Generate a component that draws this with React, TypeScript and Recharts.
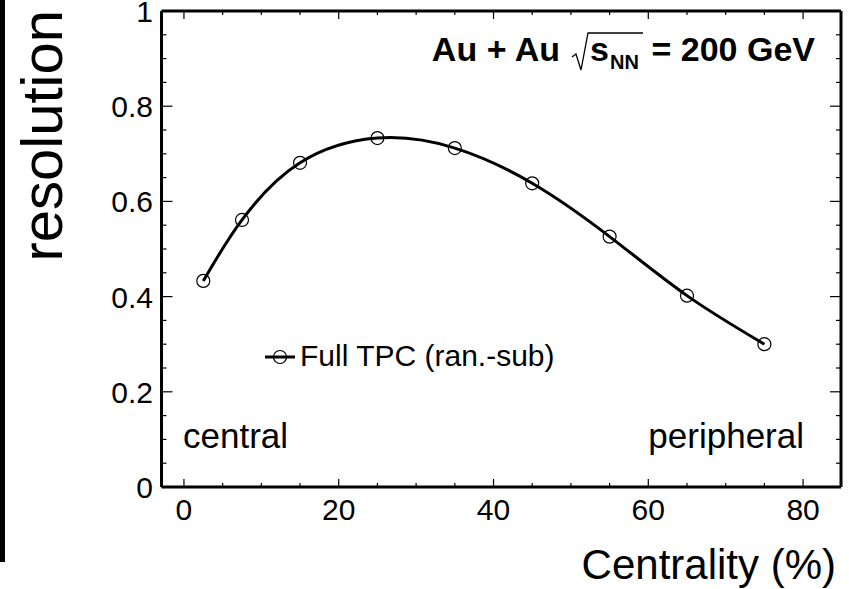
import { ComposedChart, Customized, Line, XAxis, YAxis } from "recharts";

const centrality = [2.5, 7.5, 15, 25, 35, 45, 55, 65, 75];
const resolution = [0.433, 0.561, 0.681, 0.733, 0.712, 0.638, 0.526, 0.402, 0.3];

const xTicks = [0, 5, 10, 15, 20, 25, 30, 35, 40, 45, 50, 55, 60, 65, 70, 75, 80];
const xMajor = [0, 20, 40, 60, 80];
const yTicks = [0, 0.05, 0.1, 0.15, 0.2, 0.25, 0.3, 0.35, 0.4, 0.45, 0.5, 0.55, 0.6, 0.65, 0.7, 0.75, 0.8, 0.85, 0.9, 0.95, 1];
const yMajor = [0, 0.2, 0.4, 0.6, 0.8, 1];

const data = centrality.map((x, i) => ({ x, y: resolution[i] }));

const FONT = '"Liberation Sans", Arial, Helvetica, sans-serif';
const AXIS = { stroke: "#000", strokeWidth: 3 };

const isMajor = (list: number[], v: number) => list.some((m) => Math.abs(m - v) < 1e-6);

function BottomTick(p: any) {
  const major = isMajor(xMajor, p.payload.value);
  return (
    <g>
      <line x1={p.x} x2={p.x} y1={p.y} y2={p.y - (major ? 8 : 4)} stroke="#000" strokeWidth={1.2} />
      {major && (
        <text x={p.x} y={p.y + 33} textAnchor="middle" fontFamily={FONT} fontSize={30} fill="#000">
          {p.payload.value}
        </text>
      )}
    </g>
  );
}

function TopTick(p: any) {
  const major = isMajor(xMajor, p.payload.value);
  return <line x1={p.x} x2={p.x} y1={p.y} y2={p.y + (major ? 8 : 4)} stroke="#000" strokeWidth={1.2} />;
}

function LeftTick(p: any) {
  const major = isMajor(yMajor, p.payload.value);
  return (
    <g>
      <line x1={p.x} x2={p.x + (major ? 11 : 5)} y1={p.y} y2={p.y} stroke="#000" strokeWidth={1.2} />
      {major && (
        <text x={153} y={p.y + 11} textAnchor="end" fontFamily={FONT} fontSize={30} fill="#000">
          {p.payload.value}
        </text>
      )}
    </g>
  );
}

function RightTick(p: any) {
  const major = isMajor(yMajor, p.payload.value);
  return <line x1={p.x} x2={p.x - (major ? 11 : 5)} y1={p.y} y2={p.y} stroke="#000" strokeWidth={1.2} />;
}

function Overlay() {
  return (
    <g fontFamily={FONT} fill="#000">
      <text x={560} y={61} textAnchor="end" fontSize={34} fontWeight="bold">Au + Au</text>
      <path d="M572,57 L576,54 L581,70 L588,33 L643,33" fill="none" stroke="#000" strokeWidth={1.3} />
      <text x={590} y={61} fontSize={34} fontWeight="bold">s</text>
      <text x={610} y={69} fontSize={20} fontWeight="bold">NN</text>
      <text x={815} y={61} textAnchor="end" fontSize={34} fontWeight="bold">= 200 GeV</text>

      <line x1={265} x2={295} y1={357} y2={357} stroke="#000" strokeWidth={3} />
      <circle cx={280} cy={357} r={6.5} fill="none" stroke="#000" strokeWidth={1.2} />
      <text x={300} y={366} fontSize={30}>Full TPC (ran.-sub)</text>

      <text x={183} y={448} fontSize={35}>central</text>
      <text x={804} y={448} textAnchor="end" fontSize={35}>peripheral</text>

      <text x={836} y={579} textAnchor="end" fontSize={42}>Centrality (%)</text>
      <text transform="translate(62,10) rotate(-90)" textAnchor="end" fontSize={58}>resolution</text>
    </g>
  );
}

export default function App() {
  return (
    <div style={{ position: "absolute", left: 0, top: 0, width: 849, height: 589, background: "#fff" }}>
      <div style={{ position: "absolute", left: 0, top: 0, width: 5, height: 562, background: "#000" }} />
      <ComposedChart width={849} height={589} data={data} margin={{ top: 10, right: 7, bottom: 101, left: 160.5 }}>
        <XAxis
          xAxisId="b"
          dataKey="x"
          type="number"
          domain={[-2.9, 84.9]}
          allowDataOverflow
          ticks={xTicks}
          interval={0}
          height={1}
          tickSize={0}
          tickMargin={0}
          tickLine={false}
          axisLine={AXIS}
          tick={BottomTick}
        />
        <XAxis
          xAxisId="t"
          orientation="top"
          dataKey="x"
          type="number"
          domain={[-2.9, 84.9]}
          allowDataOverflow
          ticks={xTicks}
          interval={0}
          height={1}
          tickSize={0}
          tickMargin={0}
          tickLine={false}
          axisLine={AXIS}
          tick={TopTick}
        />
        <YAxis
          yAxisId="l"
          type="number"
          domain={[0, 1]}
          allowDataOverflow
          ticks={yTicks}
          interval={0}
          width={1}
          tickSize={0}
          tickMargin={0}
          tickLine={false}
          axisLine={AXIS}
          tick={LeftTick}
        />
        <YAxis
          yAxisId="r"
          orientation="right"
          type="number"
          domain={[0, 1]}
          allowDataOverflow
          ticks={yTicks}
          interval={0}
          width={1}
          tickSize={0}
          tickMargin={0}
          tickLine={false}
          axisLine={AXIS}
          tick={RightTick}
        />
        <Line
          xAxisId="b"
          yAxisId="l"
          dataKey="y"
          type="natural"
          stroke="#000"
          strokeWidth={3}
          dot={{ r: 6.5, fill: "none", stroke: "#000", strokeWidth: 1.2 }}
          activeDot={false}
          isAnimationActive={false}
        />
        <Customized component={<Overlay />} />
      </ComposedChart>
    </div>
  );
}
